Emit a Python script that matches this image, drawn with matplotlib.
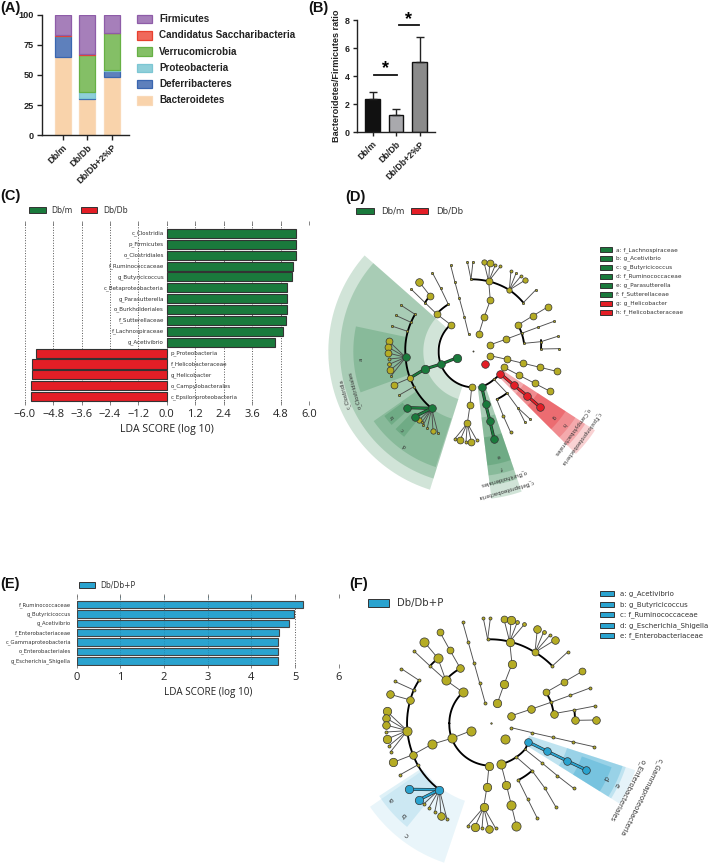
import numpy as np
import matplotlib
matplotlib.use("Agg")
import matplotlib.pyplot as plt
from matplotlib.patches import Polygon, Rectangle

W, H = 709, 865
BOLD = "Liberation Sans"
NARROW = ["Open Sans", "DejaVu Sans"]
PLAIN = "DejaVu Sans"
plt.rcParams["font.family"] = PLAIN

# ---------------- Panel A ----------------
a_groups = ["Db/m", "Db/Db", "Db/Db+2%P"]
a_phyla = ["Bacteroidetes", "Deferribacteres", "Proteobacteria", "Verrucomicrobia",
           "Candidatus Saccharibacteria", "Firmicutes"]
a_bacteroidetes = [65, 30, 48]
a_deferribacteres = [17.5, 1, 5.5]
a_proteobacteria = [0, 4.5, 0.3]
a_verrucomicrobia = [0, 31, 30.7]
a_candidatus = [1, 1, 0.3]
a_firmicutes = [16.5, 32.5, 15.2]
a_face = ["#F9D3AB", "#5E80BC", "#8FCFD9", "#84BF66", "#F0695B", "#A67FBA"]
a_edge = ["#F9D9B8", "#3A66B0", "#7CC6D3", "#66B044", "#E8402F", "#8E5CA8"]

# ---------------- Panel B ----------------
b_groups = ["Db/m", "Db/Db", "Db/Db+2%P"]
b_ratio = [2.35, 1.25, 5.0]
b_err = [0.5, 0.4, 1.8]
b_colors = ["#111111", "#A9A9AD", "#8B8B8B"]

# ---------------- Panel C ----------------
c_taxa_m = ["c_Clostridia", "p_Firmicutes", "o_Clostridiales", "f_Ruminococcaceae",
            "g_Butyricicoccus", "c_Betaproteobacteria", "g_Parasutterella",
            "o_Burkholderiales", "f_Sutterellaceae", "f_Lachnospiraceae", "g_Acetivibrio"]
c_lda_m = [5.46, 5.46, 5.44, 5.33, 5.27, 5.08, 5.06, 5.06, 5.05, 4.90, 4.57]
c_taxa_db = ["p_Proteobacteria", "f_Helicobacteraceae", "g_Helicobacter",
             "o_Campylobacterales", "c_Epsilonproteobacteria"]
c_lda_db = [-5.54, -5.71, -5.71, -5.73, -5.73]
c_ticks = [-6.0, -4.8, -3.6, -2.4, -1.2, 0.0, 1.2, 2.4, 3.6, 4.8, 6.0]

# ---------------- Panel E ----------------
e_taxa = ["f_Ruminococcaceae", "g_Butyricicoccus", "g_Acetivibrio", "f_Enterobacteriaceae",
          "c_Gammaproteobacteria", "o_Enterobacteriales", "g_Escherichia_Shigella"]
e_lda = [5.18, 4.97, 4.86, 4.63, 4.62, 4.62, 4.61]

GREEN, RED, BLUE, YEL = "#1A7A3C", "#E31E26", "#2AA3CF", "#B5AC24"

# ---------------- Panel D cladogram (values read in zoomed picture units) ----------------
d_center = (400, 484)
d_thin = [
    [(386, 433), (373, 380), (358, 325), (345, 277), (332, 226)],
    [(416, 433), (432, 382), (451, 331), (446, 274)],
    [(393, 268), (382, 215)], [(393, 268), (399, 215)],
    [(446, 274), (432, 217)], [(446, 274), (449, 220)], [(446, 274), (466, 225)], [(446, 274), (481, 229)],
    [(508, 300), (513, 242)], [(508, 300), (528, 250)], [(508, 300), (543, 258)], [(508, 300), (556, 270)],
    [(550, 338), (587, 300)],
    [(449, 465), (497, 448), (593, 412), (642, 394)],
    [(534, 405), (578, 378), (623, 351)],
    [(552, 460), (603, 455), (653, 439)], [(603, 477), (658, 476)],
    [(450, 497), (500, 508), (550, 520), (600, 532), (650, 544)],
    [(492, 532), (538, 556), (584, 580), (630, 604)],
    [(462, 568), (500, 608), (533, 653), (570, 687)], [(533, 653), (555, 697)],
    [(470, 628), (490, 678), (512, 727)],
    [(395, 592), (390, 646), (382, 700)],
    [(382, 700), (344, 747)], [(382, 700), (360, 751)], [(382, 700), (378, 755)],
    [(382, 700), (394, 755)], [(382, 700), (410, 750)],
    [(210, 564), (163, 584)], [(222, 590), (178, 615)],
    [(225, 373), (182, 345)], [(213, 397), (167, 376)], [(200, 423), (155, 408)],
    [(197, 502), (146, 453)], [(197, 502), (144, 471)], [(197, 502), (144, 489)], [(197, 502), (147, 507)],
    [(197, 502), (147, 523)], [(197, 502), (150, 541)], [(197, 502), (154, 557)],
    [(275, 655), (236, 691)], [(275, 655), (245, 697)], [(275, 655), (250, 705)], [(275, 655), (262, 713)],
    [(275, 655), (279, 722)], [(275, 655), (294, 730)],
    [(332, 404), (290, 372), (255, 338), (214, 298)],
    [(325, 343), (302, 295), (277, 248)],
    [(270, 317), (238, 276)],
]
d_thick = [
    [(332, 404), (296, 484), (395, 592)],
    [(425, 590), (462, 568), (481, 551)],
    [(393, 268), (446, 274), (508, 300), (550, 338)],
    [(534, 405), (545, 430), (552, 460)],
    [(603, 450), (603, 477)],
    [(470, 628), (500, 610)],
    [(225, 373), (213, 397), (197, 502), (210, 564), (222, 590), (275, 655)],
    [(290, 372), (325, 343)],
    [(255, 338), (270, 317)],
]
d_yellow = [(386, 433, 3), (373, 380, 3), (358, 325, 3), (345, 277, 3), (332, 226, 3),
            (416, 433, 9), (432, 382, 9), (451, 331, 9), (446, 274, 9),
            (393, 268, 3), (382, 215, 3), (399, 215, 3), (432, 217, 7), (449, 220, 9), (466, 225, 4), (481, 229, 4),
            (508, 300, 7), (513, 242, 4), (528, 250, 3), (543, 258, 4), (556, 270, 7), (550, 338, 3), (587, 300, 3),
            (449, 465, 9), (497, 448, 9), (593, 412, 3), (642, 394, 3), (534, 405, 9), (578, 378, 9), (623, 351, 9),
            (545, 430, 3), (552, 460, 3), (603, 455, 3), (653, 439, 3), (603, 477, 3), (658, 476, 3),
            (450, 497, 9), (500, 508, 9), (550, 520, 9), (600, 532, 9), (650, 544, 9),
            (492, 532, 9), (538, 556, 9), (584, 580, 9), (630, 604, 9),
            (462, 568, 3), (500, 608, 3), (470, 628, 3), (490, 678, 4), (512, 727, 4),
            (533, 653, 3), (570, 687, 3), (555, 697, 3),
            (395, 592, 9), (390, 646, 9), (382, 700, 9),
            (344, 747, 4), (360, 751, 9), (378, 755, 4), (394, 755, 9), (410, 750, 4),
            (210, 564, 8), (163, 584, 9), (222, 590, 3), (178, 615, 3), (225, 373, 3), (182, 345, 3),
            (213, 397, 3), (167, 376, 3), (200, 423, 3), (155, 408, 3),
            (146, 453, 9), (144, 471, 9), (144, 489, 9), (147, 507, 4), (147, 523, 5), (150, 541, 9), (154, 557, 3),
            (236, 691, 7), (245, 697, 3), (250, 705, 3), (262, 713, 3), (279, 722, 7), (294, 730, 3),
            (332, 404, 9), (290, 372, 9), (270, 317, 9), (238, 276, 10), (255, 338, 3), (214, 298, 3),
            (325, 343, 3), (302, 295, 3), (277, 248, 3)]
d_green_lines = [[(304, 522), (352, 503)], [(304, 522), (255, 537), (210, 564)],
                 [(275, 655), (200, 653)], [(275, 655), (224, 680)],
                 [(425, 590), (437, 642), (450, 694), (462, 746)]]
d_green = [(304, 522, 10), (352, 503, 11), (255, 537, 11), (197, 502, 10), (275, 655, 10),
           (200, 653, 10), (224, 680, 10), (425, 590, 10), (437, 642, 10), (450, 694, 10), (462, 746, 10)]
d_red_lines = [[(481, 551), (521, 585), (562, 618), (601, 652)]]
d_red = [(435, 523, 10), (481, 551, 10), (521, 585, 10), (562, 618, 10), (601, 652, 10)]
# inner radius, outer radius, start angle, end angle, colour, opacity
d_wedges = [(108, 435, 138.6, 252.6, GREEN, 0.20), (150, 400, 138.6, 252.6, GREEN, 0.22),
            (205, 360, 168, 200, GREEN, 0.22), (212, 365, 215, 252, GREEN, 0.22),
            (262, 330, 216, 222, GREEN, 0.22), (262, 330, 225, 231, GREEN, 0.22),
            (105, 445, 277, 289, GREEN, 0.20), (105, 405, 277, 289, GREEN, 0.22),
            (200, 375, 277, 289, GREEN, 0.22), (260, 345, 277, 289, GREEN, 0.22),
            (104, 435, 315, 327, RED, 0.20), (104, 400, 315, 327, RED, 0.22),
            (180, 365, 315, 327, RED, 0.22), (230, 330, 315, 327, RED, 0.28)]
# text, x, y, rotation
d_labels = [("a", 63, 508, 90), ("b", 157, 680, 129), ("c", 188, 716, 138), ("d", 195, 767, 151),
            ("e", 475, 797, 193), ("f", 483, 832, 193), ("g", 640, 680, 231), ("h", 670, 703, 231),
            ("c_Clostridia", 14, 612, 105), ("o_Clostridiales", 44, 600, 105),
            ("o_Burkholderiales", 491, 864, 196), ("c_Betaproteobacteria", 498, 900, 196),
            ("o_Campylobacterales", 695, 725, 234), ("c_Epsilonproteobacteria", 722, 746, 234)]
d_key = ["a: f_Lachnospiraceae", "b: g_Acetivibrio", "c: g_Butyricicoccus", "d: f_Ruminococcaceae",
         "e: g_Parasutterella", "f: f_Sutterellaceae", "g: g_Helicobacter", "h: f_Helicobacteraceae"]
d_key_colors = [GREEN] * 6 + [RED] * 2

# ---------------- Panel F cladogram ----------------
f_center = (438, 550)
f_thin = [
    [(421, 490), (404, 429), (387, 368), (370, 307), (353, 246)],
    [(457, 490), (478, 431), (501, 372), (494, 305)],
    [(428, 298), (415, 235)], [(428, 298), (436, 235)],
    [(494, 305), (477, 238)], [(494, 305), (498, 241)], [(494, 305), (517, 246)], [(494, 305), (538, 253)],
    [(570, 337), (577, 267)], [(570, 337), (596, 276)], [(570, 337), (614, 286)], [(570, 337), (630, 300)],
    [(622, 378), (668, 336)],
    [(497, 528), (557, 508), (618, 487), (676, 466), (735, 444)],
    [(603, 457), (657, 426), (712, 394)],
    [(626, 521), (688, 510), (750, 498)], [(690, 541), (754, 540)],
    [(499, 563), (561, 578), (623, 592), (684, 606), (746, 620)],
    [(468, 672), (484, 734), (499, 795), (514, 857)],
    [(514, 651), (561, 692), (600, 745), (632, 800)],
    [(540, 628), (590, 668), (637, 707), (686, 745)],
    [(520, 720), (548, 777), (577, 835)],
    [(432, 677), (426, 740), (416, 802)],
    [(416, 802), (368, 858)], [(416, 802), (389, 862)], [(416, 802), (411, 865)],
    [(416, 802), (431, 866)], [(416, 802), (452, 865)],
    [(320, 595), (379, 572)], [(320, 595), (260, 613), (204, 644)], [(204, 644), (145, 667)],
    [(187, 572), (125, 514)], [(187, 572), (123, 534)], [(187, 572), (123, 555)], [(187, 572), (124, 576)],
    [(187, 572), (126, 597)], [(187, 572), (131, 618)], [(187, 572), (137, 635)],
    [(196, 480), (135, 463)], [(222, 421), (169, 386)], [(206, 450), (149, 424)], [(218, 675), (164, 705)],
    [(283, 749), (236, 792)], [(283, 749), (252, 803)], [(283, 749), (269, 817)],
    [(283, 749), (288, 828)], [(283, 749), (306, 837)],
    [(354, 457), (302, 420), (279, 355), (238, 306)],
    [(346, 385), (315, 331), (284, 275)],
    [(302, 420), (255, 378), (208, 334)],
]
f_thick = [
    [(354, 457), (313, 550), (320, 595), (432, 677)],
    [(468, 672), (514, 651), (540, 628), (550, 606)],
    [(428, 298), (494, 305), (570, 337), (622, 378)],
    [(603, 457), (618, 487), (626, 521)],
    [(688, 510), (690, 541)],
    [(561, 692), (520, 720)],
    [(222, 421), (206, 450), (196, 480), (187, 572), (204, 644), (218, 675), (283, 749)],
    [(302, 420), (346, 385)],
    [(255, 378), (279, 355)],
]
f_yellow = [(438, 550, 2), (421, 490, 4), (404, 429, 4), (387, 368, 4), (370, 307, 4), (353, 246, 4),
            (457, 490, 11), (478, 431, 11), (501, 372, 11), (494, 305, 11),
            (428, 298, 4), (415, 235, 4), (436, 235, 4), (477, 238, 9), (498, 241, 11), (517, 246, 5), (538, 253, 5),
            (570, 337, 9), (577, 267, 10), (596, 276, 5), (614, 286, 4), (630, 300, 10), (622, 378, 4), (668, 336, 4),
            (497, 528, 10), (557, 508, 10), (618, 487, 4), (676, 466, 4), (735, 444, 4),
            (603, 457, 9), (657, 426, 9), (712, 394, 9), (626, 521, 10), (688, 510, 4), (750, 498, 4),
            (690, 541, 10), (754, 540, 10),
            (499, 563, 4), (561, 578, 4), (623, 592, 4), (684, 606, 4), (746, 620, 4), (481, 596, 12),
            (540, 628, 3), (514, 651, 4), (468, 672, 12), (484, 734, 11), (499, 795, 12), (514, 857, 12),
            (561, 692, 4), (520, 720, 4), (600, 745, 4), (632, 800, 4), (590, 668, 4), (637, 707, 4), (686, 745, 4),
            (548, 777, 4), (577, 835, 4),
            (432, 677, 11), (426, 740, 11), (416, 802, 11), (368, 858, 4), (389, 862, 11), (411, 865, 4),
            (431, 866, 10), (452, 865, 4),
            (320, 595, 12), (379, 572, 12), (260, 613, 12), (204, 644, 10), (145, 667, 11), (187, 572, 12),
            (125, 514, 11), (123, 534, 10), (123, 555, 10), (124, 576, 4), (126, 597, 11), (131, 618, 4), (137, 635, 4),
            (196, 480, 10), (135, 463, 10), (222, 421, 4), (169, 386, 4), (206, 450, 4), (149, 424, 4),
            (218, 675, 4), (164, 705, 4),
            (236, 792, 4), (252, 803, 4), (269, 817, 4), (288, 828, 10), (306, 837, 4),
            (354, 457, 12), (302, 420, 12), (279, 355, 12), (238, 306, 12), (346, 385, 10), (315, 331, 9),
            (284, 275, 9), (255, 378, 4), (208, 334, 4)]
f_blue_lines = [[(283, 749), (192, 748)], [(283, 749), (221, 780)],
                [(550, 606), (607, 634), (665, 662), (722, 689)]]
f_blue = [(283, 749, 11), (192, 748, 11), (221, 780, 11), (550, 606, 10), (607, 634, 10), (665, 662, 10), (722, 689, 10)]
f_wedges = [(245, 441, 214.6, 251.4, BLUE, 0.10),
            (255, 400, 213, 222, BLUE, 0.15), (255, 400, 222, 231, BLUE, 0.15),
            (120, 455, 328, 342, BLUE, 0.12), (120, 425, 328, 342, BLUE, 0.20),
            (240, 415, 328, 342, BLUE, 0.25), (290, 385, 328, 340, BLUE, 0.30)]
f_labels = [("a", 139, 778, 127), ("b", 177, 824, 136), ("c", 185, 882, 143),
            ("d", 780, 715, 244), ("e", 813, 733, 244),
            ("o_Enterobacteriales", 848, 749, 242), ("c_Gammaproteobacteria", 888, 770, 243)]
f_key = ["a: g_Acetivibrio", "b: g_Butyricicoccus", "c: f_Ruminococcaceae",
         "d: g_Escherichia_Shigella", "e: f_Enterobacteriaceae"]

# ---------------- helpers ----------------
fig = plt.figure(figsize=(W / 100, H / 100), dpi=100, facecolor="white")


def ax_px(l, t, w, h, **kw):
    return fig.add_axes([l / W, 1 - (t + h) / H, w / W, h / H], **kw)


def polyline_polar(points, center):
    cx, cy = center
    xs, ys = [], []
    for (x0, y0), (x1, y1) in zip(points[:-1], points[1:]):
        a0 = np.arctan2(y0 - cy, x0 - cx)
        a1 = np.arctan2(y1 - cy, x1 - cx)
        d = (a1 - a0 + np.pi) % (2 * np.pi) - np.pi
        r0, r1 = np.hypot(x0 - cx, y0 - cy), np.hypot(x1 - cx, y1 - cy)
        t = np.linspace(0, 1, 30)
        xs += list(cx + (r0 + (r1 - r0) * t) * np.cos(a0 + d * t))
        ys += list(cy + (r0 + (r1 - r0) * t) * np.sin(a0 + d * t))
    return xs, ys


def draw_nodes(ax, nodes, color, z):
    for x, y, r in nodes:
        ax.scatter([x], [y], s=(0.55 * r) ** 2, c=color, edgecolors="#333333", linewidths=0.5, zorder=z, clip_on=False)


def cladogram(ax, center, wedges, thin, thick, yellow, hl_groups, labels, label_size):
    cx, cy = center
    ax.set_axis_off()
    ax.patch.set_alpha(0)
    for r0, r1, a0, a1, col, al in wedges:
        t = np.radians(np.linspace(a0, a1, 60))
        out = np.c_[cx + r1 * np.cos(t), cy - r1 * np.sin(t)]
        inn = np.c_[cx + r0 * np.cos(t[::-1]), cy - r0 * np.sin(t[::-1])]
        ax.add_patch(Polygon(np.r_[out, inn], closed=True, fc=col, ec="none", alpha=al, zorder=1, clip_on=False))
    for ln in thin:
        xs, ys = zip(*ln)
        ax.plot(xs, ys, color="#4d4d4d", lw=0.65, zorder=2, clip_on=False)
    for ln in thick:
        xs, ys = polyline_polar(ln, center)
        ax.plot(xs, ys, color="black", lw=1.35, zorder=3, clip_on=False, solid_capstyle="round")
    draw_nodes(ax, yellow, YEL, 5)
    for lines, nodes, col in hl_groups:
        for ln in lines:
            xs, ys = zip(*ln)
            ax.plot(xs, ys, color="#222222", lw=2.2, zorder=4, clip_on=False)
            ax.plot(xs, ys, color=col, lw=1.4, zorder=4, clip_on=False)
        draw_nodes(ax, nodes, col, 6)
    for txt, x, y, rot in labels:
        ax.text(x, y, txt, rotation=rot, ha="center", va="center", fontsize=label_size, color="#333333",
                rotation_mode="anchor", zorder=7, clip_on=False)


def lda_axes(ax, xlabel_size, xlabel_pad):
    for s in ax.spines.values():
        s.set_visible(False)
    ax.grid(True, axis="x", ls=":", color="#555555", lw=0.7)
    ax.set_axisbelow(True)
    ax.set_yticks([])
    ax.tick_params(axis="x", top=True, bottom=True, length=2.5, width=0.5, color="#555555",
                   direction="inout", labelsize=8, pad=3, labelcolor="#222222")
    for t in ax.get_xticklabels():
        t.set_family(NARROW)
    ax.set_xlabel("LDA SCORE (log 10)", fontsize=xlabel_size, family=NARROW, color="#222222", labelpad=xlabel_pad)


# ---------------- overlay for panel letters and keys ----------------
ov = ax_px(0, 0, W, H, zorder=10)
ov.set_xlim(0, W)
ov.set_ylim(H, 0)
ov.set_axis_off()
ov.patch.set_alpha(0)
for txt, x, y in [("(A)", 0, 8), ("(B)", 308, 8), ("(C)", 0, 196), ("(D)", 345, 197), ("(E)", 0, 584), ("(F)", 349, 584)]:
    ov.text(x, y, txt, fontsize=10.5, fontweight="bold", family=BOLD, va="center", color="#111111")


def key(x, y, w, h, col, txt, tx, size, **kw):
    ov.add_patch(Rectangle((x, y - h / 2), w, h, fc=col, ec=kw.pop("ec", "#333333"), lw=kw.pop("lw", 0.7)))
    ov.text(tx, y, txt, fontsize=size, va="center", color=kw.pop("color", "#333333"), **kw)


# ---------------- A ----------------
ax = ax_px(41.7, 14.7, 87.3, 120.6)
a_series = [a_bacteroidetes, a_deferribacteres, a_proteobacteria, a_verrucomicrobia, a_candidatus, a_firmicutes]
bottom = np.zeros(3)
for vals, fc, ec in zip(a_series, a_face, a_edge):
    ax.bar(range(3), vals, width=0.66, bottom=bottom, color=fc, edgecolor=ec, linewidth=0.9)
    bottom += np.array(vals)
ax.set_xlim(-0.85, 2.69)
ax.set_ylim(0, 100)
ax.set_yticks([0, 25, 50, 75, 100])
ax.set_xticks(range(3))
ax.set_xticklabels(a_groups, rotation=45, ha="right", rotation_mode="anchor")
for s in ["top", "right"]:
    ax.spines[s].set_visible(False)
for s in ["left", "bottom"]:
    ax.spines[s].set_linewidth(1.0)
    ax.spines[s].set_color("#222222")
ax.tick_params(width=1.0, length=3.5, pad=2, color="#222222")
for t in ax.get_xticklabels() + ax.get_yticklabels():
    t.set_family(BOLD); t.set_fontweight("bold"); t.set_fontsize(6.6); t.set_color("#222222")
a_key_y = [100.3, 84.2, 68, 51.7, 35.3, 19]
for name, fc, ec, y in zip(a_phyla, a_face, a_edge, a_key_y):
    key(137.3, y, 14.7, 8.6, fc, name, 159.3, 7.15, ec=ec, lw=0.9, family=BOLD, fontweight="bold", color="#222222")

# ---------------- B ----------------
ax = ax_px(357.3, 20, 77.7, 112)
ax.bar(range(3), b_ratio, width=0.62, color=b_colors, edgecolor="#111111", linewidth=1.0,
       yerr=[[0, 0, 0], b_err], error_kw=dict(ecolor="#222222", elinewidth=1.0, capsize=3.2, capthick=1.0))
ax.set_xlim(-0.65, 2.66)
ax.set_ylim(0, 8)
ax.set_yticks([0, 2, 4, 6, 8])
ax.set_xticks(range(3))
ax.set_xticklabels(b_groups, rotation=45, ha="right", rotation_mode="anchor")
for s in ["top", "right"]:
    ax.spines[s].set_visible(False)
for s in ["left", "bottom"]:
    ax.spines[s].set_linewidth(1.0)
    ax.spines[s].set_color("#222222")
ax.tick_params(width=1.0, length=3.2, pad=2, color="#222222")
for t in ax.get_xticklabels() + ax.get_yticklabels():
    t.set_family(BOLD); t.set_fontweight("bold"); t.set_fontsize(6.4); t.set_color("#222222")
ax.set_ylabel("Bacteroidetes/Firmicutes ratio", fontsize=6.6, fontweight="bold", family=BOLD, color="#222222", labelpad=3, y=0.5)
ax.plot([0.05, 1.02], [4.1, 4.1], color="#111111", lw=1.3, clip_on=False)
ax.plot([1.12, 1.98], [7.63, 7.63], color="#111111", lw=1.3, clip_on=False)
ax.text(0.55, 4.5, "*", fontsize=13, fontweight="bold", family=BOLD, ha="center", va="center", clip_on=False)
ax.text(1.55, 8.05, "*", fontsize=13, fontweight="bold", family=BOLD, ha="center", va="center", clip_on=False)

# ---------------- C ----------------
ax = ax_px(24.7, 222.7, 284.3, 180.6)
yy_m = np.arange(len(c_lda_m))
yy_db = np.arange(len(c_lda_db)) + len(c_lda_m)
ax.barh(yy_m, c_lda_m, height=0.83, color=GREEN, edgecolor="#333333", linewidth=0.8, zorder=3)
ax.barh(yy_db, c_lda_db, height=0.83, color=RED, edgecolor="#333333", linewidth=0.8, zorder=3)
ax.set_xlim(-6, 6)
ax.set_ylim(15.61, -0.98)
ax.set_xticks(c_ticks)
ax.set_xticklabels([f"{v:.1f}".replace("-", "\u2212") for v in c_ticks])
lda_axes(ax, 7.6, 3)
for y, t in zip(yy_m, c_taxa_m):
    ax.text(-0.12, y, t, ha="right", va="center", fontsize=4.1, color="#333333", zorder=5)
for y, t in zip(yy_db, c_taxa_db):
    ax.text(0.15, y, t, ha="left", va="center", fontsize=4.1, color="#333333", zorder=5)
key(29.3, 210.2, 16.3, 6, GREEN, "Db/m", 51.7, 5.7)
key(80.7, 210.2, 16.3, 6, RED, "Db/Db", 103.3, 5.7)

# ---------------- D ----------------
ax = ax_px(340, 190, 369, 320, zorder=5)
ax.set_xlim(0, 1107)
ax.set_ylim(960, 0)
cladogram(ax, d_center, d_wedges, d_thin, d_thick, d_yellow + [(400, 484, 1.5)],
          [(d_green_lines, d_green, GREEN), (d_red_lines, d_red, RED)], d_labels, 3.9)
key(356, 210.8, 18, 6.3, GREEN, "Db/m", 381, 6.2)
key(410.7, 210.8, 17.6, 6.3, RED, "Db/Db", 435.7, 6.2)
for i, (t, c) in enumerate(zip(d_key, d_key_colors)):
    key(599.7, 249.7 + i * 8.95, 12, 4.6, c, t, 616, 4.15)

# ---------------- E ----------------
ax = ax_px(76.7, 595.7, 262, 70.3)
yy_e = np.arange(len(e_lda))
ax.barh(yy_e, e_lda, height=0.82, color=BLUE, edgecolor="#444444", linewidth=0.8, zorder=3)
ax.set_xlim(0, 6)
ax.set_ylim(6.57, -0.96)
ax.set_xticks(range(7))
lda_axes(ax, 7.1, 3)
for x in range(1, 5):
    ax.axvline(x, color="#1b6f8f", lw=0.6, ls=":", alpha=0.6, zorder=4)
for y, t in zip(yy_e, e_taxa):
    ax.text(-0.13, y, t, ha="right", va="center", fontsize=3.8, color="#333333")
key(79.3, 585.3, 15.7, 6.3, BLUE, "Db/Db+P", 100.7, 5.5)

# ---------------- F ----------------
ax = ax_px(345, 540, 364, 325, zorder=5)
ax.set_xlim(0, 1092)
ax.set_ylim(975, 0)
cladogram(ax, f_center, f_wedges, f_thin, f_thick, f_yellow, [(f_blue_lines, f_blue, BLUE)], f_labels, 5.0)
key(368.3, 603.3, 21, 8, BLUE, "Db/Db+P", 397, 7.3)
for i, t in enumerate(f_key):
    key(600, 593.7 + i * 10.55, 14.3, 5, BLUE, t, 620.3, 5.0)

fig.savefig("out.png", dpi=100)
